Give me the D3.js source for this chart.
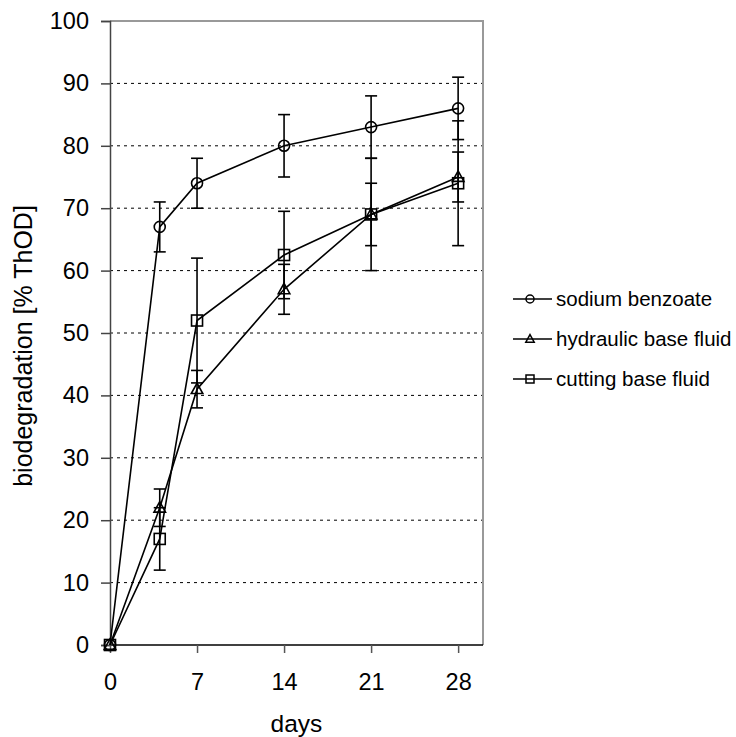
<!DOCTYPE html>
<html>
<head>
<meta charset="utf-8">
<script src="https://cdn.jsdelivr.net/npm/d3@7"></script>
<style>
  body { margin: 0; background: #fff; }
  svg text { font-family: "Liberation Sans", Arial, sans-serif; fill: #000; }
</style>
</head>
<body>
<div id="chart"></div>
<script>
// values
let days = [0, 4, 7, 14, 21, 28];
let sodiumBenzoate = [0, 67, 74, 80, 83, 86];
let sodiumBenzoateErr = [0, 4, 4, 5, 5, 5];
let hydraulicFluid = [0, 22, 41, 57, 69, 75];
let hydraulicFluidErr = [0, 3, 3, 4, 5, 4];
let cuttingFluid = [0, 17, 52, 62.5, 69, 74];
let cuttingFluidErr = [0, 5, 10, 7, 9, 10];
let xTicks = [0, 7, 14, 21, 28];
let yTicks = [0, 10, 20, 30, 40, 50, 60, 70, 80, 90, 100];
let seriesNames = ["sodium benzoate", "hydraulic base fluid", "cutting base fluid"];

let w = 736, h = 737;
let padLeft = 110, padRight = 483, padTop = 21, padBottom = 645;

let series = [
    { name: seriesNames[0], values: sodiumBenzoate, err: sodiumBenzoateErr, shape: "circle" },
    { name: seriesNames[1], values: hydraulicFluid, err: hydraulicFluidErr, shape: "triangle" },
    { name: seriesNames[2], values: cuttingFluid, err: cuttingFluidErr, shape: "square" }
];

let xScale = d3.scaleLinear().domain([0, 30]).range([padLeft, padRight]);
let yScale = d3.scaleLinear().domain([0, 100]).range([padBottom, padTop]);

let svg = d3.select("#chart")
    .append("svg")
    .attr("width", w)
    .attr("height", h);

// gridlines
svg.append("g")
    .selectAll("line")
    .data(yTicks.filter(function (d) { return d > 0 && d < 100; }))
    .enter()
    .append("line")
    .attr("x1", padLeft)
    .attr("x2", padRight)
    .attr("y1", function (d) { return yScale(d); })
    .attr("y2", function (d) { return yScale(d); })
    .style("stroke", "#000")
    .style("stroke-width", "1px")
    .style("stroke-dasharray", "3,4");

// frame top / right
svg.append("path")
    .attr("d", "M" + padLeft + "," + yScale(100) + "H" + xScale(30) + "V" + padBottom)
    .style("fill", "none")
    .style("stroke", "#999")
    .style("stroke-width", "2px");

let yAxis = d3.axisLeft(yScale).tickValues(yTicks).tickSize(9).tickPadding(12);
let gy = svg.append("g")
    .attr("transform", "translate(" + padLeft + ",0)")
    .call(yAxis);
gy.select(".domain").style("stroke", "#444").style("stroke-width", "1.5px");
gy.selectAll(".tick line").style("stroke", "#444").style("stroke-width", "1.5px");
gy.selectAll("text").style("font-size", "23.5px");

let xAxis = d3.axisBottom(xScale).tickValues(xTicks).tickSize(8).tickPadding(20);
let gx = svg.append("g")
    .attr("transform", "translate(0," + padBottom + ")")
    .call(xAxis);
gx.select(".domain").attr("d", "M" + padLeft + ",0H" + padRight).style("stroke", "#000").style("stroke-width", "1.5px");
gx.selectAll(".tick line").style("stroke", "#555").style("stroke-width", "1.5px");
gx.selectAll("text").style("font-size", "23.5px");

svg.append("text")
    .attr("transform", "rotate(-90)")
    .attr("x", -346)
    .attr("y", 32)
    .style("text-anchor", "middle")
    .style("font-size", "25px")
    .text("biodegradation [% ThOD]");

svg.append("text")
    .attr("x", (padLeft + padRight) / 2)
    .attr("y", 732)
    .style("text-anchor", "middle")
    .style("font-size", "24.5px")
    .text("days");

function marker(g, shape, x, y, r) {
    if (shape === "circle") {
        g.append("circle").attr("cx", x).attr("cy", y).attr("r", r);
    } else if (shape === "square") {
        g.append("rect").attr("x", x - r).attr("y", y - r).attr("width", 2 * r).attr("height", 2 * r);
    } else {
        g.append("path").attr("d", "M" + x + "," + (y - r * 1.1) + "L" + (x + r * 1.05) + "," + (y + r * 0.8) + "L" + (x - r * 1.05) + "," + (y + r * 0.8) + "Z");
    }
}

let line = d3.line()
    .x(function (d, i) { return xScale(days[i]); })
    .y(function (d) { return yScale(d); });

series.forEach(function (s) {
    let g = svg.append("g")
        .style("fill", "none")
        .style("stroke", "#000")
        .style("stroke-width", "1.6px");

    // error bars
    s.values.forEach(function (v, i) {
        if (s.err[i] <= 0) return;
        let x = xScale(days[i]);
        let y1 = yScale(v - s.err[i]), y2 = yScale(v + s.err[i]);
        g.append("line").attr("x1", x).attr("x2", x).attr("y1", y1).attr("y2", y2);
        g.append("line").attr("x1", x - 6).attr("x2", x + 6).attr("y1", y1).attr("y2", y1);
        g.append("line").attr("x1", x - 6).attr("x2", x + 6).attr("y1", y2).attr("y2", y2);
    });

    g.append("path").attr("d", line(s.values));

    s.values.forEach(function (v, i) {
        marker(g, s.shape, xScale(days[i]), yScale(v), 5.5);
    });
});

// legend
let legend = svg.append("g");
series.forEach(function (s, i) {
    let y = 299 + i * 40;
    let g = legend.append("g")
        .style("fill", "none")
        .style("stroke", "#000")
        .style("stroke-width", "1.5px");
    g.append("line").attr("x1", 513).attr("x2", 552).attr("y1", y).attr("y2", y);
    marker(g, s.shape, 530, y, 4);
    legend.append("text")
        .attr("x", 556)
        .attr("y", y + 7)
        .style("font-size", "20.5px")
        .text(s.name);
});
</script>
</body>
</html>
